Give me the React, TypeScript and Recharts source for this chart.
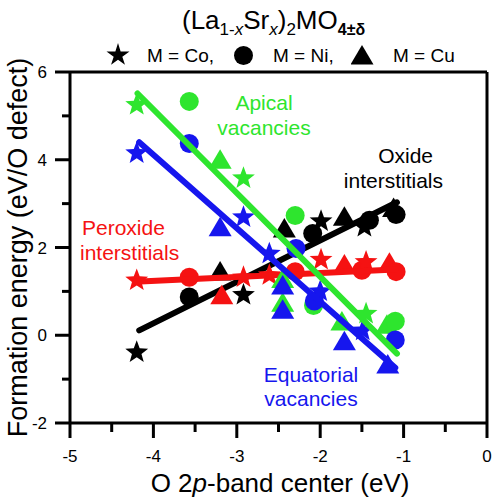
import { ComposedChart, Scatter, XAxis, YAxis } from 'recharts';

const FONT = '"Liberation Sans", Arial, Helvetica, sans-serif';

const BLACK = '#000000';
const RED = '#f51212';
const GREEN = '#2ee52e';
const BLUE = '#1616ee';

type Kind = 'star' | 'circle' | 'triangle';
interface Pt {
  x: number;
  y: number;
  m: Kind;
}

// oxide interstitials (black)
const oxidePts: Pt[] = [
  { x: -4.2, y: -0.39, m: 'star' },
  { x: -3.57, y: 0.87, m: 'circle' },
  { x: -3.2, y: 1.44, m: 'triangle' },
  { x: -2.92, y: 0.92, m: 'star' },
  { x: -2.43, y: 2.42, m: 'triangle' },
  { x: -2.09, y: 2.32, m: 'circle' },
  { x: -1.99, y: 2.6, m: 'star' },
  { x: -1.71, y: 2.69, m: 'triangle' },
  { x: -1.47, y: 2.47, m: 'star' },
  { x: -1.41, y: 2.62, m: 'circle' },
  { x: -1.12, y: 2.89, m: 'triangle' },
  { x: -1.09, y: 2.75, m: 'circle' },
];

// peroxide interstitials (red)
const peroxidePts: Pt[] = [
  { x: -4.2, y: 1.25, m: 'star' },
  { x: -3.57, y: 1.32, m: 'circle' },
  { x: -3.18, y: 0.9, m: 'triangle' },
  { x: -2.92, y: 1.32, m: 'star' },
  { x: -2.61, y: 1.37, m: 'star' },
  { x: -2.3, y: 1.45, m: 'circle' },
  { x: -1.99, y: 1.72, m: 'star' },
  { x: -1.71, y: 1.6, m: 'triangle' },
  { x: -1.5, y: 1.48, m: 'circle' },
  { x: -1.45, y: 1.67, m: 'star' },
  { x: -1.17, y: 1.64, m: 'triangle' },
  { x: -1.09, y: 1.45, m: 'circle' },
];

// apical vacancies (green)
const apicalPts: Pt[] = [
  { x: -4.2, y: 5.25, m: 'star' },
  { x: -3.57, y: 5.33, m: 'circle' },
  { x: -3.2, y: 3.99, m: 'triangle' },
  { x: -2.92, y: 3.58, m: 'star' },
  { x: -2.45, y: 1.27, m: 'triangle' },
  { x: -2.45, y: 0.73, m: 'triangle' },
  { x: -2.3, y: 2.73, m: 'circle' },
  { x: -2.08, y: 0.68, m: 'circle' },
  { x: -1.74, y: 0.3, m: 'triangle' },
  { x: -1.45, y: 0.49, m: 'star' },
  { x: -1.2, y: 0.23, m: 'triangle' },
  { x: -1.1, y: 0.32, m: 'circle' },
];

// equatorial vacancies (blue)
const equatorialPts: Pt[] = [
  { x: -4.2, y: 4.15, m: 'star' },
  { x: -3.57, y: 4.37, m: 'circle' },
  { x: -3.2, y: 2.45, m: 'triangle' },
  { x: -2.92, y: 2.69, m: 'star' },
  { x: -2.61, y: 1.86, m: 'star' },
  { x: -2.45, y: 1.12, m: 'triangle' },
  { x: -2.45, y: 0.57, m: 'triangle' },
  { x: -2.29, y: 1.98, m: 'circle' },
  { x: -2.07, y: 0.78, m: 'circle' },
  { x: -2.0, y: 1.0, m: 'star' },
  { x: -1.71, y: -0.15, m: 'triangle' },
  { x: -1.49, y: 0.11, m: 'star' },
  { x: -1.19, y: -0.68, m: 'triangle' },
  { x: -1.1, y: -0.11, m: 'circle' },
];

// linear fits
const oxideFit = [
  { x: -4.17, y: 0.11 },
  { x: -1.08, y: 3.03 },
];
const peroxideFit = [
  { x: -4.22, y: 1.22 },
  { x: -1.1, y: 1.5 },
];
const apicalFit = [
  { x: -4.19, y: 5.51 },
  { x: -1.08, y: -0.42 },
];
const equatorialFit = [
  { x: -4.17, y: 4.4 },
  { x: -1.1, y: -0.74 },
];

const xTicks = [-5, -4.5, -4, -3.5, -3, -2.5, -2, -1.5, -1, -0.5, 0];
const yTicks = [-2, -1, 0, 1, 2, 3, 4, 5, 6];

function Marker({ cx, cy, m, color }: { cx: number; cy: number; m: Kind; color: string }) {
  if (m === 'circle') return <circle cx={cx} cy={cy} r={9.5} fill={color} />;
  if (m === 'triangle') {
    return (
      <polygon
        points={`${cx},${cy - 11} ${cx - 11.5},${cy + 8.5} ${cx + 11.5},${cy + 8.5}`}
        fill={color}
      />
    );
  }
  const pts: string[] = [];
  for (let i = 0; i < 10; i++) {
    const a = -Math.PI / 2 + (i * Math.PI) / 5;
    const rr = i % 2 === 0 ? 12 : 5;
    pts.push(`${cx + rr * Math.cos(a)},${cy + rr * Math.sin(a)}`);
  }
  return <polygon points={pts.join(' ')} fill={color} />;
}

const shapeFor = (color: string) => (p: any) =>
  <Marker cx={p.cx} cy={p.cy} m={p.payload.m} color={color} />;

const noShape = () => <g />;

const fitLine = (color: string) => ({ stroke: color, strokeWidth: 6, strokeLinecap: 'round' as const });

// tick renderers: major/minor lengths differ, so the lines are drawn here
const BottomTick = (p: any) => {
  const v = p.payload.value;
  const major = Number.isInteger(v);
  return (
    <g>
      <line x1={p.x} x2={p.x} y1={p.y} y2={p.y + (major ? 15 : 9)} stroke="#000" strokeWidth={3} />
      {major && (
        <text x={p.x} y={p.y + 39} textAnchor="middle" fontSize={17} fontFamily={FONT} fill="#000">
          {v}
        </text>
      )}
    </g>
  );
};

const TopTick = (p: any) => {
  const major = Number.isInteger(p.payload.value);
  return (
    <g>
      <line x1={p.x} x2={p.x} y1={p.y} y2={p.y + (major ? 15 : 9)} stroke="#000" strokeWidth={3} />
    </g>
  );
};

const LeftTick = (p: any) => {
  const v = p.payload.value;
  const major = v % 2 === 0;
  return (
    <g>
      <line x1={p.x} x2={p.x - (major ? 15 : 8)} y1={p.y} y2={p.y} stroke="#000" strokeWidth={3} />
      {major && (
        <text x={p.x - 23} y={p.y + 6} textAnchor="end" fontSize={17} fontFamily={FONT} fill="#000">
          {v}
        </text>
      )}
    </g>
  );
};

const RightTick = (p: any) => (
  <g>
    <line x1={p.x} x2={p.x - 10} y1={p.y} y2={p.y} stroke="#000" strokeWidth={3} />
  </g>
);

// plain HTML text placed by its baseline
function Txt({
  x,
  y,
  size,
  color = '#000',
  align = 'left',
  children,
}: {
  x: number;
  y: number;
  size: number;
  color?: string;
  align?: 'left' | 'center' | 'right';
  children: any;
}) {
  const top = y - size * 0.85;
  const style: any = {
    position: 'absolute',
    top,
    fontSize: size,
    lineHeight: `${size}px`,
    color,
    fontFamily: FONT,
    whiteSpace: 'nowrap',
  };
  if (align === 'left') style.left = x;
  if (align === 'center') {
    style.left = x - 200;
    style.width = 400;
    style.textAlign = 'center';
  }
  if (align === 'right') {
    style.left = x - 400;
    style.width = 400;
    style.textAlign = 'right';
  }
  return <div style={style}>{children}</div>;
}

const sub = (size: number, bold = false): any => ({
  fontSize: size,
  position: 'relative',
  top: 6,
  fontWeight: bold ? 'bold' : 'normal',
});

// legend symbols in HTML
const starClip =
  'polygon(50% 0%, 61% 35%, 98% 35%, 68% 57%, 79% 91%, 50% 70%, 21% 91%, 32% 57%, 2% 35%, 39% 35%)';

function LegendSymbol({ cx, cy, m }: { cx: number; cy: number; m: Kind }) {
  if (m === 'circle') {
    return (
      <div
        style={{
          position: 'absolute',
          left: cx - 9.5,
          top: cy - 9.5,
          width: 19,
          height: 19,
          borderRadius: '50%',
          background: '#000',
        }}
      />
    );
  }
  if (m === 'triangle') {
    return (
      <div
        style={{
          position: 'absolute',
          left: cx - 11.5,
          top: cy - 11,
          width: 23,
          height: 19.5,
          background: '#000',
          clipPath: 'polygon(50% 0%, 100% 100%, 0% 100%)',
        }}
      />
    );
  }
  return (
    <div
      style={{
        position: 'absolute',
        left: cx - 12,
        top: cy - 12,
        width: 24,
        height: 24,
        background: '#000',
        clipPath: starClip,
      }}
    />
  );
}

export default function App() {
  return (
    <div
      style={{
        position: 'absolute',
        left: 0,
        top: 0,
        width: 496,
        height: 500,
        background: '#fff',
        fontFamily: FONT,
      }}
    >
      <ComposedChart width={496} height={500} margin={{ top: 52, right: 0, bottom: 0, left: 0 }}>
        <XAxis
          xAxisId="b"
          type="number"
          dataKey="x"
          domain={[-5, 0]}
          ticks={xTicks}
          interval={0}
          height={77}
          tickSize={0}
          tickMargin={0}
          tickLine={false}
          axisLine={{ stroke: '#000', strokeWidth: 3 }}
          tick={BottomTick}
        />
        <XAxis
          xAxisId="t"
          type="number"
          dataKey="x"
          orientation="top"
          domain={[-5, 0]}
          ticks={xTicks}
          interval={0}
          height={20}
          tickSize={0}
          tickMargin={0}
          tickLine={false}
          axisLine={{ stroke: '#000', strokeWidth: 3 }}
          tick={TopTick}
        />
        <YAxis
          yAxisId="l"
          type="number"
          dataKey="y"
          domain={[-2, 6]}
          ticks={yTicks}
          interval={0}
          width={70}
          tickSize={0}
          tickMargin={0}
          tickLine={false}
          axisLine={{ stroke: '#000', strokeWidth: 3 }}
          tick={LeftTick}
        />
        <YAxis
          yAxisId="r"
          type="number"
          dataKey="y"
          orientation="right"
          domain={[-2, 6]}
          ticks={yTicks}
          interval={0}
          width={9}
          tickSize={0}
          tickMargin={0}
          tickLine={false}
          axisLine={{ stroke: '#000', strokeWidth: 3 }}
          tick={RightTick}
        />

        <Scatter xAxisId="b" yAxisId="l" data={oxidePts} shape={shapeFor(BLACK)} isAnimationActive={false} />
        <Scatter xAxisId="b" yAxisId="l" data={oxideFit} line={fitLine(BLACK)} shape={noShape} isAnimationActive={false} />
        <Scatter xAxisId="b" yAxisId="l" data={peroxidePts} shape={shapeFor(RED)} isAnimationActive={false} />
        <Scatter xAxisId="b" yAxisId="l" data={peroxideFit} line={fitLine(RED)} shape={noShape} isAnimationActive={false} />
        <Scatter xAxisId="b" yAxisId="l" data={apicalPts} shape={shapeFor(GREEN)} isAnimationActive={false} />
        <Scatter xAxisId="b" yAxisId="l" data={equatorialPts} shape={shapeFor(BLUE)} isAnimationActive={false} />
        <Scatter xAxisId="b" yAxisId="l" data={apicalFit} line={fitLine(GREEN)} shape={noShape} isAnimationActive={false} />
        <Scatter xAxisId="b" yAxisId="l" data={equatorialFit} line={fitLine(BLUE)} shape={noShape} isAnimationActive={false} />
      </ComposedChart>

      {/* title */}
      <Txt x={182} y={29} size={26}>
        (La<span style={sub(17)}>1-<i>x</i></span>Sr<span style={sub(17)}><i>x</i></span>)
        <span style={sub(17)}>2</span>MO<span style={sub(16, true)}>4±δ</span>
      </Txt>

      {/* legend */}
      <LegendSymbol cx={118} cy={55} m="star" />
      <Txt x={147} y={62} size={19}>M = Co,</Txt>
      <LegendSymbol cx={243} cy={55} m="circle" />
      <Txt x={273} y={62} size={19}>M = Ni,</Txt>
      <LegendSymbol cx={362} cy={56} m="triangle" />
      <Txt x={393} y={62} size={19}>M = Cu</Txt>

      {/* annotations */}
      <Txt x={264} y={110} size={21} color={GREEN} align="center">Apical</Txt>
      <Txt x={264} y={135} size={21} color={GREEN} align="center">vacancies</Txt>
      <Txt x={433} y={163} size={21} align="right">Oxide</Txt>
      <Txt x={443} y={188} size={21} align="right">interstitials</Txt>
      <Txt x={82} y={235} size={21} color={RED}>Peroxide</Txt>
      <Txt x={80} y={260} size={21} color={RED}>interstitials</Txt>
      <Txt x={311} y={382} size={21} color={BLUE} align="center">Equatorial</Txt>
      <Txt x={311} y={406} size={21} color={BLUE} align="center">vacancies</Txt>

      {/* axis titles */}
      <Txt x={280} y={492} size={26} align="center">
        O 2<i>p</i>-band center (eV)
      </Txt>
      <div
        style={{
          position: 'absolute',
          left: 18 - 250,
          top: 247 - 13.5,
          width: 500,
          height: 27,
          lineHeight: '27px',
          fontSize: 27,
          textAlign: 'center',
          transform: 'rotate(-90deg)',
          whiteSpace: 'nowrap',
        }}
      >
        Formation energy (eV/O defect)
      </div>
    </div>
  );
}
